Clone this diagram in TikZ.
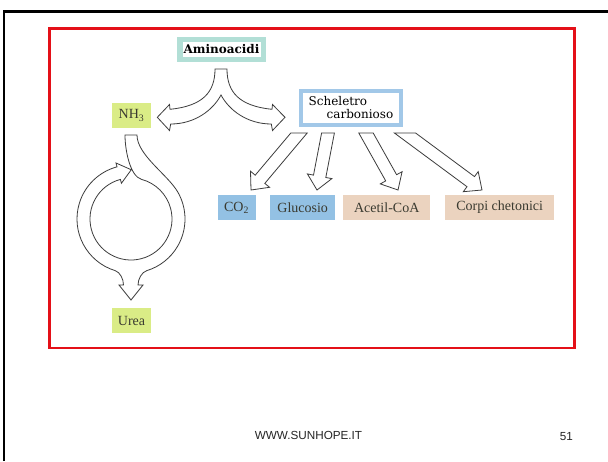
\documentclass[tikz,border=0pt]{standalone}
\usepackage{fontspec}
\setmainfont{Liberation Serif}
\newfontfamily\headfont{DejaVu Serif}
\newfontfamily\footfont{Liberation Sans}
\usepackage{tikz}
\usetikzlibrary{calc}

\definecolor{aminoteal}{HTML}{B2DFD6}
\definecolor{nhgreen}{HTML}{DAEC86}
\definecolor{schelblue}{HTML}{A2C8E8}
\definecolor{boxblue}{HTML}{93C1E4}
\definecolor{boxtan}{HTML}{EBD3BF}
\definecolor{boxtext}{HTML}{3A3A30}
\definecolor{arrowgray}{HTML}{3C3C3C}
\definecolor{framered}{HTML}{E41018}

\begin{document}
\begin{tikzpicture}[x=1pt, y=-1pt,
    blockarrow/.style={draw=arrowgray, fill=white, line width=0.8pt, line join=miter},
    colbox/.style={inner sep=0pt, minimum height=25pt, text=boxtext,
        font=\fontsize{14}{16}\selectfont},
    greenbox/.style={colbox, fill=nhgreen, minimum width=39pt},
    bluebox/.style={colbox, fill=boxblue},
    tanbox/.style={colbox, fill=boxtan},
    footer/.style={font=\footfont\fontsize{11.7}{13}\selectfont, text=black!85}]

    % page and frame
    \fill[white] (0,0) rectangle (608,461);
    \useasboundingbox (0,0) rectangle (608,461);
    \draw[line width=2.5pt] (4,461) -- (4,11.3) -- (608,11.3);
    \draw[framered, line width=2.3pt] (49.5,28.5) rectangle (574.5,348.2);

    % boxes
    \node[draw=aminoteal, line width=5.5pt, fill=white, inner sep=0pt,
        minimum width=83.5pt, minimum height=20pt,
        font=\headfont\bfseries\fontsize{12}{14}\selectfont] (amino) at (221.5,49.5) {Aminoacidi};
    \node[draw=schelblue, line width=4pt, fill=white, inner sep=0pt,
        minimum width=100pt, minimum height=34.5pt, align=left,
        font=\headfont\fontsize{12}{13}\selectfont] (schel) at (351,108)
        {Scheletro\\\hspace*{18pt}carbonioso};
    \node[greenbox] (nh3) at (131.5,115.5) {NH\textsubscript{3}};
    \node[greenbox] (urea) at (131.5,320.5) {Urea};
    \node[bluebox, minimum width=38pt] (co2) at (236.5,207.5) {CO\textsubscript{2}};
    \node[bluebox, minimum width=65.4pt] (gluc) at (302.7,207.5) {Glucosio};
    \node[tanbox, minimum width=86.5pt] (acetil) at (386.7,207.5) {Acetil-CoA};
    \node[tanbox, minimum width=109.5pt] (corpi) at (499.7,207.5) {Corpi chetonici};

    % split arrow under the amino acids
    \draw[blockarrow] (215,69) -- (227,69)
        .. controls (227,92) and (239,106) .. (272,109.3)
        -- (272.5,104.5) -- (285,117.3) -- (272.5,130.5) -- (271.3,124)
        .. controls (247,124) and (229,110) .. (221,95)
        .. controls (213,110) and (195,124) .. (170.7,124)
        -- (169.5,130.5) -- (157.3,117.3) -- (169.5,104.5) -- (170,109.3)
        .. controls (203,106) and (215,92) .. (215,69) -- cycle;

    % arrows from the carbon skeleton
    \draw[blockarrow] (290.8,133) -- (307.2,133) -- (264.8,183.4) -- (269.6,187.3)
        -- (251,190) -- (250.5,171.2) -- (255.2,175.2) -- cycle;
    \draw[blockarrow] (321.6,133) -- (334.4,133) -- (325.8,177.5) -- (331.9,178.6)
        -- (317,190) -- (307.4,173.9) -- (313.5,175.1) -- cycle;
    \draw[blockarrow] (358.8,133) -- (373.2,133) -- (396.6,174.7) -- (402.1,171.7)
        -- (398,190) -- (380.3,183.9) -- (385.7,180.9) -- cycle;
    \draw[blockarrow] (394.4,133) -- (415.6,133) -- (474.5,176.6) -- (478.2,171.6)
        -- (482,190) -- (463.3,191.7) -- (467,186.7) -- cycle;

    % urea cycle
    \coordinate (ring) at (131,219);
    \draw[blockarrow] (125,135) -- (137,135)
        .. controls (137,155) and (167.8,174.7) .. ($(ring)+(30:54pt)$)
        arc[start angle=30, end angle=-73, radius=54pt]
        .. controls (141.8,272.1) and (138,279) .. (138,285)
        -- (143,285) -- (131,300) -- (119,285) -- (123.5,285)
        .. controls (123.5,279) and (120,272.1) .. ($(ring)+(-107:54pt)$)
        arc[start angle=-107, end angle=-255, radius=54pt]
        -- ($(ring)+(105:58pt)$)
        -- ($(ring)+(105:47.5pt)+(15:13pt)$)
        -- ($(ring)+(105:37pt)$)
        -- ($(ring)+(105:41pt)$)
        arc[start angle=105, end angle=435, radius=41pt]
        .. controls (130,176.3) and (125,150) .. (125,135) -- cycle;

    % footer
    \node[footer, anchor=base] (site) at (308.5,439) {WWW.SUNHOPE.IT};
    \node[footer, anchor=base east] (page) at (576.3,440) {51};
\end{tikzpicture}
\end{document}
